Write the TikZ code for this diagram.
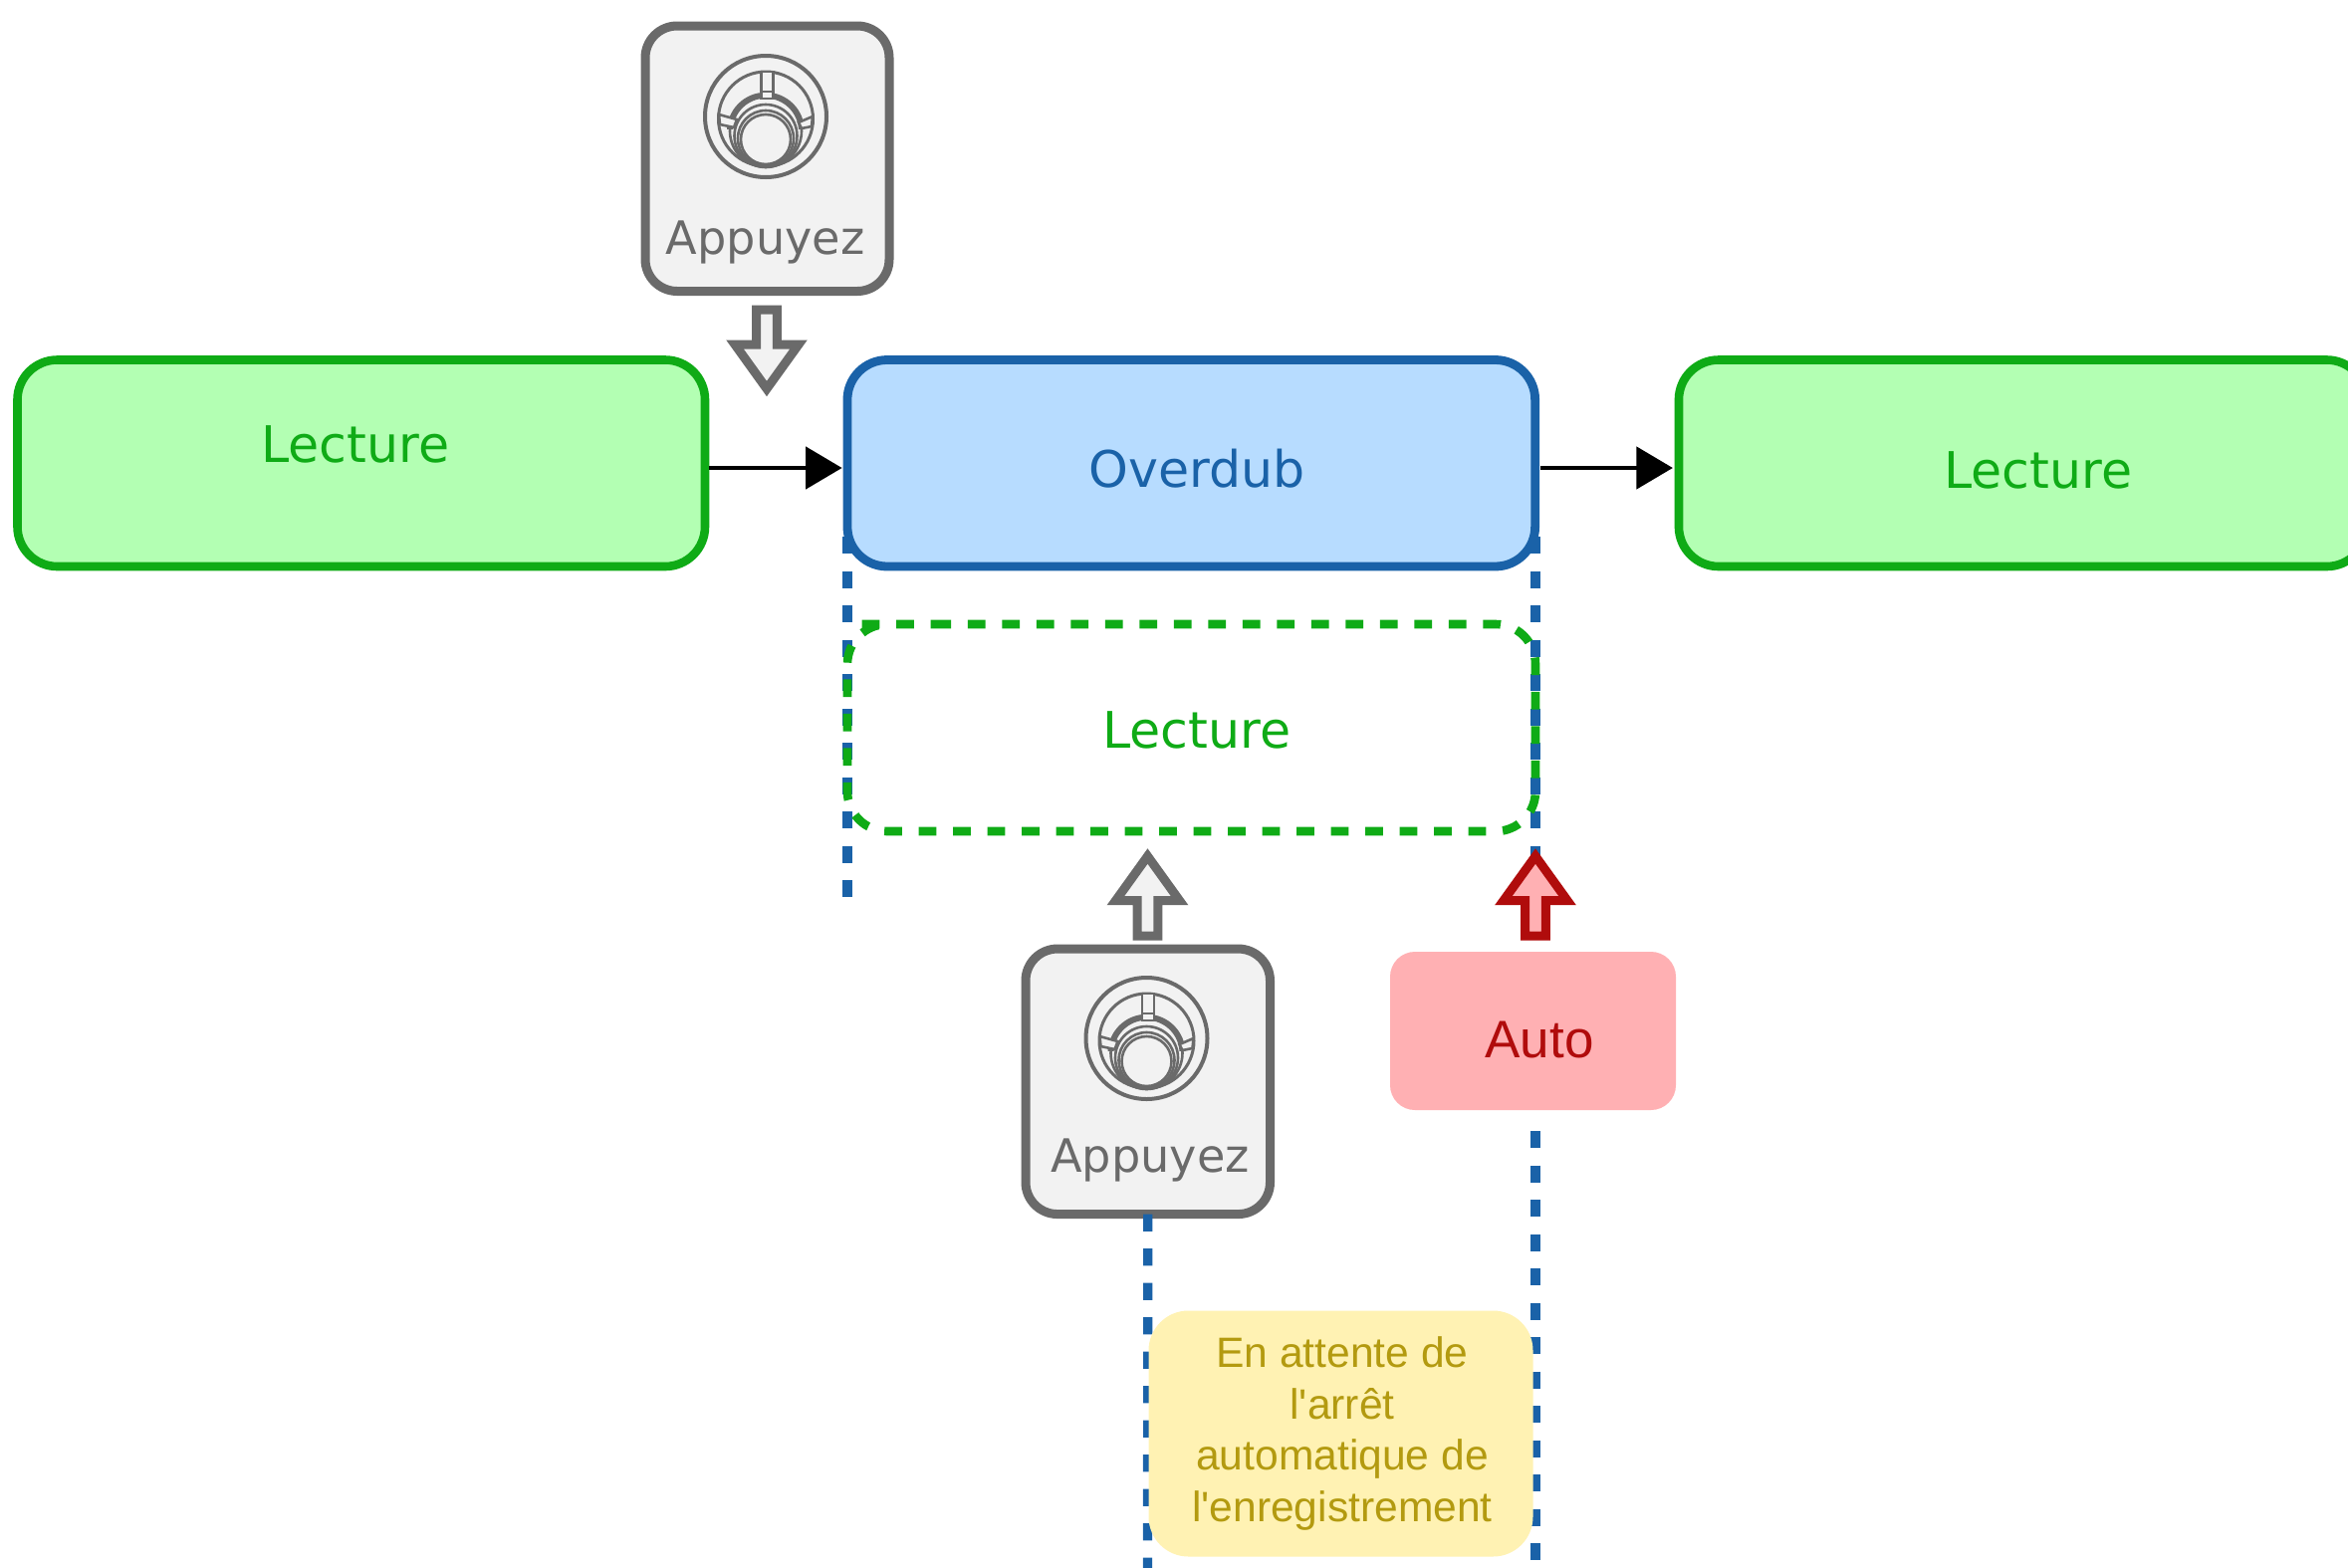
\documentclass[tikz,border=0pt]{standalone}
\usepackage{fontspec}
\setmainfont{DejaVu Sans}
\newfontfamily\arialfont{Liberation Sans}
\usetikzlibrary{arrows.meta}
\definecolor{gstroke}{HTML}{0FAB16}
\definecolor{gfill}{HTML}{B3FFB3}
\definecolor{bstroke}{HTML}{1A62A8}
\definecolor{bfill}{HTML}{B7DCFF}
\definecolor{kstroke}{HTML}{6A6A6A}
\definecolor{kfill}{HTML}{F2F2F2}
\definecolor{rstroke}{HTML}{B00C0C}
\definecolor{rfill}{HTML}{FFB0B3}
\definecolor{yfill}{HTML}{FFF2B3}
\definecolor{ytext}{HTML}{B39A10}
\tikzset{
  wbox/.style={inner sep=0pt,outer sep=0pt,rectangle,rounded corners=20pt},
  greenbox/.style={wbox,draw=gstroke,fill=gfill,line width=4.3pt},
  bluebox/.style={wbox,draw=bstroke,fill=bfill,line width=4.4pt},
  greendash/.style={draw=gstroke,line width=4.3pt,rounded corners=20pt,dash pattern=on 8.85pt off 8.4pt},
  btnbox/.style={wbox,rounded corners=16pt,draw=kstroke,fill=kfill,line width=4.5pt},
  autobox/.style={wbox,rounded corners=12.5pt,fill=rfill},
  notebox/.style={wbox,rounded corners=20pt,fill=yfill},
  biglabel/.style={font=\fontsize{25.3}{30}\selectfont,anchor=base},
  btnlabel/.style={font=\fontsize{23.1}{28}\selectfont,text=kstroke,anchor=base},
  bluedash/.style={draw=bstroke,line width=4.6pt,dash pattern=on 8.7pt off 8.55pt},
  flow/.style={draw=black,line width=2.4pt,-{Triangle[length=18.3pt,width=21pt]}},
  hollow/.style={line width=4.5pt,miter limit=10,line join=miter},
  knobline/.style={draw=kstroke,line width=1.3pt},
}
\newcommand{\knobicon}[2]{%
  \begin{scope}[shift={(#1,#2)}]
    \draw[knobline,line width=2pt] (0,0) circle[radius=61];
    \draw[knobline,line width=1.5pt] (0,2.5) circle[radius=47.5];
    \draw[knobline] (0,14.75) circle[radius=36];
    \begin{scope}
      \clip (-45,-30) rectangle (45,12);
      \draw[knobline,line width=3pt] (0,14.75) circle[radius=36];
    \end{scope}
    \draw[knobline] (0,19.5) circle[radius=31.5];
    \draw[knobline] (0,22) circle[radius=28];
    \draw[knobline,fill=kfill] (-4.5,-45) rectangle (7.5,-18);
    \draw[knobline] (-4.5,-25) -- (7.5,-25);
    \draw[knobline,fill=kfill] (-47,-2) -- (-29,3) -- (-32,11) -- (-46,8) -- cycle;
    \draw[knobline,fill=kfill] (47,0) -- (33,6) -- (36,12) -- (46,10) -- cycle;
    \draw[knobline,fill=kfill] (0,23) circle[radius=25];
  \end{scope}}
\begin{document}
\begin{tikzpicture}[x=0.5pt,y=-0.5pt]
\path[use as bounding box,fill=white] (0,0) rectangle (2358,1575);
\clip (0,0) rectangle (2358,1575);
% free ends of the dashed lines and the level of the flow arrows
\coordinate (lefttop) at (851,539);
\coordinate (leftend) at (851,902);
\coordinate (righttop) at (1542,539);
\coordinate (rightend) at (1542,870);
\coordinate (autotail) at (1542,1136);
\coordinate (rightfoot) at (1542,1575);
\coordinate (midfoot) at (1152.5,1575);
\coordinate (flowlevel) at (0,470);
\coordinate (dashstart) at (897.3,627);
% vertical dashed lines, behind the boxes
\path[bluedash] (lefttop) -- (leftend);
\path[bluedash] (righttop) -- (rightend);
\path[bluedash] (autotail) -- (rightfoot);
% boxes
\node[greenbox,minimum width=345.25pt,minimum height=103.75pt] (lec1) at (362.75,465.25) {};
\node[bluebox,minimum width=345.35pt,minimum height=103.75pt] (over) at (1196.3,465.25) {};
\node[greenbox,minimum width=345.35pt,minimum height=103.75pt] (lec3) at (2031.3,465.25) {};
\node[wbox,minimum width=345.5pt,minimum height=104pt] (lec2) at (1196.5,731) {};
\path[greendash] (dashstart) -- (lec2.north east) -- (lec2.south east) -- (lec2.south west) -- (lec2.north west) -- cycle;
\node[btnbox,minimum width=122.5pt,minimum height=133.25pt] (btn1) at (770.5,159.25) {};
\node[btnbox,minimum width=122.75pt,minimum height=133.25pt] (btn2) at (1152.75,1086.3) {};
\node[autobox,minimum width=143.5pt,minimum height=79.5pt] (auto) at (1539.5,1035.5) {};
\path[bluedash] (btn2.south) -- (midfoot);
\node[notebox,minimum width=193pt,minimum height=123.5pt] (note) at (1346.5,1440) {};
% labels
\node[biglabel,text=gstroke] (t1) at (357,464) {Lecture};
\node[biglabel,text=bstroke] (t2) at (1202,489.5) {Overdub};
\node[biglabel,text=gstroke] (t3) at (2047,490) {Lecture};
\node[biglabel,text=gstroke] (t4) at (1202,751.5) {Lecture};
\node[btnlabel] (t5) at (768.5,255) {Appuyez};
\node[btnlabel] (t6) at (1155,1177) {Appuyez};
\node[font=\arialfont\fontsize{26.5}{30}\selectfont,text=rstroke,anchor=base] (t7) at (1546,1062) {Auto};
\node[font=\arialfont\fontsize{21.3}{25.7}\selectfont,text=ytext,align=center,anchor=center] (t8) at (1348,1440) {En attente de\\l'arrêt\\automatique de\\l'enregistrement};
% icons
\knobicon{769}{117}
\knobicon{1151.5}{1043}
% flow arrows
\draw[flow,shorten <=2pt,shorten >=2.65pt] (lec1.east |- flowlevel) -- (over.west |- flowlevel);
\draw[flow,shorten <=2.7pt,shorten >=3pt] (over.east |- flowlevel) -- (lec3.west |- flowlevel);
% hollow arrows
\draw[hollow,draw=kstroke,fill=kfill] (759.7,311) -- (780.3,311) -- (780.3,346) -- (802,346) -- (770,390.5) -- (738,346) -- (759.7,346) -- cycle;
\draw[hollow,draw=kstroke,fill=kfill] (1142.2,940) -- (1162.8,940) -- (1162.8,904.5) -- (1184.5,904.5) -- (1152.5,860) -- (1120.5,904.5) -- (1142.2,904.5) -- cycle;
\draw[hollow,draw=rstroke,fill=rfill] (1531.7,940) -- (1552.3,940) -- (1552.3,904.5) -- (1574,904.5) -- (1542,860) -- (1510,904.5) -- (1531.7,904.5) -- cycle;
\end{tikzpicture}
\end{document}
